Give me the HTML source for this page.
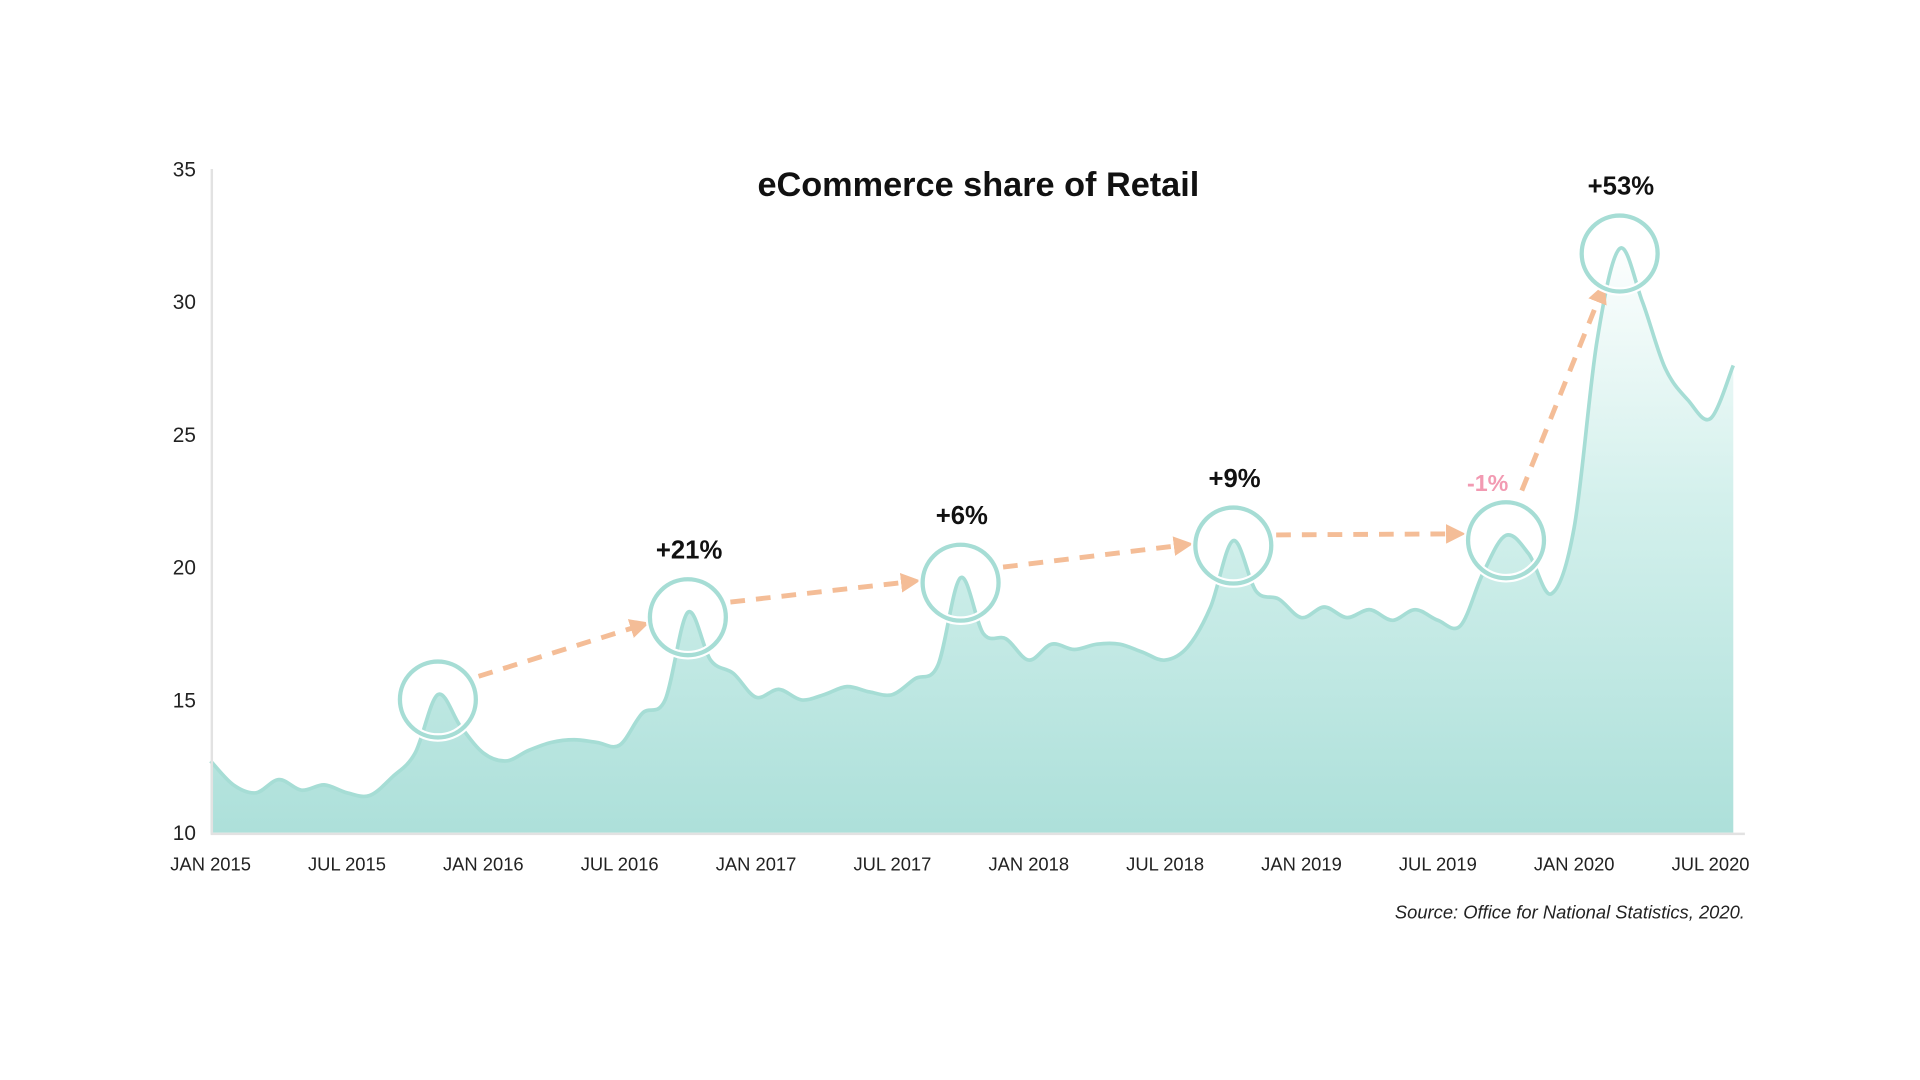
<!DOCTYPE html>
<html><head><meta charset="utf-8"><style>
html,body{margin:0;padding:0;background:#fff;width:1920px;height:1080px;overflow:hidden}
svg{display:block}
text{font-family:"Liberation Sans",sans-serif}
</style></head><body>
<svg id="chart" width="1920" height="1080" viewBox="0 0 1568 882" xmlns="http://www.w3.org/2000/svg">
<defs>
<linearGradient id="fillGrad" gradientUnits="userSpaceOnUse" x1="0" y1="190" x2="0" y2="680">
<stop offset="0" stop-color="#ffffff"/>
<stop offset="0.45" stop-color="#d3f0ec"/>
<stop offset="1" stop-color="#ade0da"/>
</linearGradient>
<marker id="arrowHead" viewBox="0 0 10 10" refX="5" refY="5" markerWidth="4" markerHeight="4" orient="auto"><path d="M0,0 L10,5 L0,10 z" fill="#f4bd97"/></marker>
</defs>
<text x="799" y="160" text-anchor="middle" font-size="28" font-weight="bold" fill="#111">eCommerce share of Retail</text>
<g id="yTicks"></g>
<g id="xTicks"></g>
<g id="series"></g>
<g id="annotations"></g>
<line x1="173" y1="138" x2="173" y2="681" stroke="#e2e2e2" stroke-width="2"/>
<line x1="172" y1="681" x2="1425" y2="681" stroke="#e2e2e2" stroke-width="2"/>
<text x="1425" y="750" text-anchor="end" font-size="15" font-style="italic" fill="#222">Source: Office for National Statistics, 2020.</text>
</svg>
<script>
const values = [12.7,11.8,11.5,12.0,11.6,11.8,11.5,11.4,12.1,13.0,15.2,14.0,13.0,12.7,13.1,13.4,13.5,13.4,13.3,14.5,15.0,18.3,16.5,16.0,15.1,15.4,15.0,15.2,15.5,15.3,15.2,15.8,16.3,19.6,17.5,17.3,16.5,17.1,16.9,17.1,17.1,16.8,16.5,17.0,18.5,21.0,19.1,18.8,18.1,18.5,18.1,18.4,18.0,18.4,18.0,17.8,19.8,21.2,20.5,19.0,21.5,28.5,32.0,30.0,27.5,26.3,25.6,27.6];
const yTickValues = [10,15,20,25,30,35];
const xTickLabels = ["JAN 2015","JUL 2015","JAN 2016","JUL 2016","JAN 2017","JUL 2017","JAN 2018","JUL 2018","JAN 2019","JUL 2019","JAN 2020","JUL 2020"];
const xTickMonths = [0,6,12,18,24,30,36,42,48,54,60,66];
const peakIndices = [10,21,33,45,57,62];
const peakLabels = ["","+21%","+6%","+9%","-1%","+53%"];

const NS="http://www.w3.org/2000/svg";
const x = i => 172 + i*18.56;
const y = v => 680 - (v-10)*21.68;
function mk(tag, attrs, parent){const e=document.createElementNS(NS,tag);for(const k in attrs)e.setAttribute(k,attrs[k]);parent.appendChild(e);return e;}

const yg=document.getElementById('yTicks');
yTickValues.forEach(v=>{
  const t=mk('text',{x:160,y:y(v)+6,'text-anchor':'end','font-size':17,fill:'#222'},yg);
  
  
  t.textContent=v;
});
const xg=document.getElementById('xTicks');
xTickLabels.forEach((l,k)=>{
  const t=mk('text',{x:x(xTickMonths[k]),y:711,'text-anchor':'middle','font-size':15,fill:'#222'},xg);
  
  
  t.textContent=l;
});

// smooth path (catmull-rom)
const pts=values.map((v,i)=>[x(i),y(v)]);
let d=`M${pts[0][0]},${pts[0][1]}`;
for(let i=0;i<pts.length-1;i++){
  const p0=pts[Math.max(i-1,0)],p1=pts[i],p2=pts[i+1],p3=pts[Math.min(i+2,pts.length-1)];
  const c1=[p1[0]+(p2[0]-p0[0])/6,p1[1]+(p2[1]-p0[1])/6];
  const c2=[p2[0]-(p3[0]-p1[0])/6,p2[1]-(p3[1]-p1[1])/6];
  d+=` C${c1[0]},${c1[1]} ${c2[0]},${c2[1]} ${p2[0]},${p2[1]}`;
}
const sg=document.getElementById('series');
const last=pts[pts.length-1];
const area=mk('path',{d:d+` L${last[0]},680 L${pts[0][0]},680 Z`,fill:'url(#fillGrad)'},sg);


const line=mk('path',{d:d,fill:'none',stroke:'#a6ddd5','stroke-width':3},sg);



const ag=document.getElementById('annotations');
const R=31;
const centers=peakIndices.map(i=>[x(i),y(values[i])+4]);
centers.forEach((c,k)=>{
  if(k<centers.length-1){
    const b=centers[k+1];const dx=b[0]-c[0],dy=b[1]-c[1];const L=Math.hypot(dx,dy);const ux=dx/L,uy=dy/L;
    const a=mk('line',{x1:c[0]+(R+4)*ux,y1:c[1]+(R+4)*uy-8,x2:b[0]-(R+10)*ux,y2:b[1]-(R+10)*uy-6,stroke:'#f4bd97','stroke-width':4,'stroke-dasharray':'12 9','marker-end':'url(#arrowHead)'},ag);
    
    
  }
});
centers.forEach((c,k)=>{
  mk('circle',{cx:c[0],cy:c[1],r:R,fill:'none',stroke:'#ffffff','stroke-width':7},ag);
  const ci=mk('circle',{cx:c[0],cy:c[1],r:R,fill:'none',stroke:'#a6ddd5','stroke-width':3.5},ag);
  
  
  if(peakLabels[k]){
    const neg=peakLabels[k].startsWith('-');
    const t=mk('text',{x:c[0]+(neg?-15:1),y:c[1]-(neg?40:48),'text-anchor':'middle','font-size':neg?19:21,'font-weight':'bold',fill:neg?'#f29ab2':'#111'},ag);
    
    
    t.textContent=peakLabels[k];
  }
});
</script>
</body></html>
